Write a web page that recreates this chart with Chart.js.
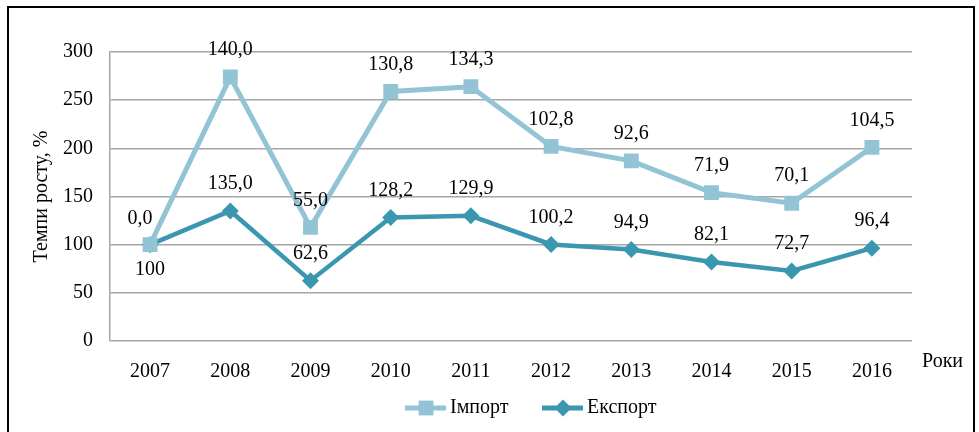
<!DOCTYPE html>
<html>
<head>
<meta charset="utf-8">
<script src="https://cdn.jsdelivr.net/npm/chart.js@4/dist/chart.umd.min.js"></script>
<style>
  html, body { margin: 0; padding: 0; background: #fff; }
  #wrap { position: relative; width: 979px; height: 432px; overflow: hidden; }
  #frame { position: absolute; left: 7px; top: 6px; width: 968px; height: 440px; border: 2px solid #000; box-sizing: border-box; pointer-events: none; }
  canvas { position: absolute; left: 0; top: 0; }
</style>
</head>
<body>
<div id="wrap">
  <canvas id="chart" width="979" height="432"></canvas>
  <div id="frame"></div>
</div>
<script>
  // --- data ---
  const years = ["2007", "2008", "2009", "2010", "2011", "2012", "2013", "2014", "2015", "2016"];
  const importValues = [100, 274, 118, 259, 264, 202, 187, 154, 143, 201];
  const exportValues = [100, 135, 62.6, 128.2, 129.9, 100.2, 94.9, 82.1, 72.7, 96.4];
  const importLabels = ["0,0", "140,0", "55,0", "130,8", "134,3", "102,8", "92,6", "71,9", "70,1", "104,5"];
  const exportLabels = ["100", "135,0", "62,6", "128,2", "129,9", "100,2", "94,9", "82,1", "72,7", "96,4"];
  const yTicks = [0, 50, 100, 150, 200, 250, 300];

  const importColor = "#93C4D6";
  const exportColor = "#3A97AF";
  const FONT = "'Liberation Serif', 'Times New Roman', Times, 'DejaVu Serif', serif";
  const FSIZE = 20;

  // label placement: default is above the point
  const labelPlace = {
    0: { 0: "left" },   // import 2007
    1: { 0: "below" }   // export 2007
  };

  const labelsPlugin = {
    id: "pointLabels",
    afterDatasetsDraw(chart) {
      const ctx = chart.ctx;
      ctx.save();
      ctx.font = FSIZE + "px " + FONT;
      ctx.fillStyle = "#000";
      ctx.textAlign = "center";
      ctx.textBaseline = "middle";
      const texts = [importLabels, exportLabels];
      chart.data.datasets.forEach((ds, di) => {
        const meta = chart.getDatasetMeta(di);
        meta.data.forEach((pt, i) => {
          const place = (labelPlace[di] || {})[i] || "above";
          let x = pt.x, y = pt.y - 27;
          if (place === "left") { x = pt.x - 10; y = pt.y - 26; }
          if (place === "below") { y = pt.y + 25; }
          ctx.fillText(texts[di][i], x, y);
        });
      });

      // "Роки" axis caption
      ctx.textAlign = "left";
      ctx.fillText("Роки", 922, 362);

      // legend
      const legend = [
        { text: "Імпорт", color: importColor, style: "rect", r: 10.5, x: 405 },
        { text: "Експорт", color: exportColor, style: "rectRot", r: 8.5, x: 542 }
      ];
      const ly = 408;
      legend.forEach(item => {
        ctx.strokeStyle = item.color;
        ctx.lineWidth = 5;
        ctx.beginPath();
        ctx.moveTo(item.x, ly);
        ctx.lineTo(item.x + 41, ly);
        ctx.stroke();
        ctx.fillStyle = item.color;
        Chart.helpers.drawPoint(ctx, { pointStyle: item.style, radius: item.r, borderWidth: 0 }, item.x + 21, ly);
        ctx.fillStyle = "#000";
        ctx.fillText(item.text, item.x + 45, ly);
      });
      ctx.restore();
    }
  };

  new Chart(document.getElementById("chart"), {
    type: "line",
    data: {
      labels: years,
      datasets: [
        {
          label: "Імпорт",
          data: importValues,
          borderColor: importColor,
          backgroundColor: importColor,
          borderWidth: 5,
          pointStyle: "rect",
          pointRadius: 10.5,
          pointBorderWidth: 0,
          tension: 0
        },
        {
          label: "Експорт",
          data: exportValues,
          borderColor: exportColor,
          backgroundColor: exportColor,
          borderWidth: 4.5,
          pointStyle: "rectRot",
          pointRadius: 8.5,
          pointBorderWidth: 0,
          tension: 0
        }
      ]
    },
    options: {
      responsive: false,
      animation: false,
      layout: { padding: { left: 30, right: 67, top: 52, bottom: 0 } },
      plugins: {
        legend: { display: false },
        tooltip: { enabled: false }
      },
      scales: {
        x: {
          offset: true,
          grid: { display: false },
          border: { display: false },
          ticks: { color: "#000", padding: 11, font: { family: FONT, size: FSIZE } },
          afterFit(scale) { scale.height = 91; }
        },
        y: {
          min: 0,
          max: 300,
          afterBuildTicks(scale) { scale.ticks = yTicks.map(v => ({ value: v })); },
          grid: { color: "#A6A6A6", lineWidth: 1.5, drawTicks: false },
          border: { display: true, color: "#A6A6A6", width: 1.5 },
          ticks: { color: "#000", padding: 17, font: { family: FONT, size: FSIZE } },
          title: {
            display: true,
            text: "Темпи росту, %",
            color: "#000",
            font: { family: FONT, size: FSIZE },
            padding: { top: 0, bottom: 0 }
          },
          afterFit(scale) { scale.width = 80; }
        }
      }
    },
    plugins: [labelsPlugin]
  });
</script>
</body>
</html>
